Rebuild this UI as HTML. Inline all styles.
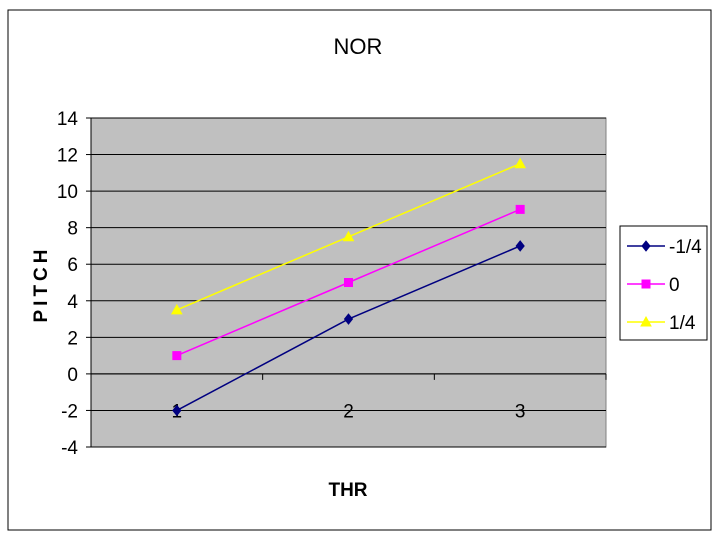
<!DOCTYPE html>
<html><head><meta charset="utf-8"><style>
body{margin:0;background:#fff;}
svg{display:block;font-family:"Liberation Sans Narrow","Liberation Sans",sans-serif;}
</style></head><body>
<svg id="c" width="720" height="540">
<rect x="8" y="10" width="703" height="520" fill="#fff" stroke="#000" stroke-width="1"/>
<text x="358" y="54" font-size="22" text-anchor="middle">NOR</text>
<rect x="91" y="118" width="515" height="329" fill="#c0c0c0" stroke="#808080"/>
<g id="grid"></g><g id="axes"></g><g id="series"></g>
<text x="348" y="496" font-size="19" font-weight="bold" text-anchor="middle">THR</text>
<text transform="translate(47,284) rotate(-90)" font-size="19" font-weight="bold" text-anchor="middle" letter-spacing="4">PITCH</text>
<g>
<rect x="620" y="226" width="87" height="114" fill="#fff" stroke="#000"/>
<g id="legend"></g></g>
</svg>
<script>
const categories=["1","2","3"];
const seriesNames=["-1/4","0","1/4"];
const sNeg=[-2,3,7];
const sZero=[1,5,9];
const sPos=[3.5,7.5,11.5];
const yTicks=[-4,-2,0,2,4,6,8,10,12,14];
const colors=["#000080","#ff00ff","#ffff00"];
const NS="http://www.w3.org/2000/svg";
const px0=91,pw=515,py0=118,ph=329,yMin=-4,yMax=14;
const X=i=>px0+pw/categories.length*(i+0.5);
const Y=v=>py0+(yMax-v)/(yMax-yMin)*ph;
function mk(t,a,p){const e=document.createElementNS(NS,t);for(const k in a)e.setAttribute(k,a[k]);p.appendChild(e);return e;}
const grid=document.getElementById('grid'),axes=document.getElementById('axes'),ser=document.getElementById('series'),leg=document.getElementById('legend');
yTicks.forEach(v=>{
 const g=mk('line',{x1:px0,x2:px0+pw,y1:Y(v),y2:Y(v),stroke:'#000','stroke-width':1},grid);
 
 
 const t=mk('line',{x1:px0-5,x2:px0,y1:Y(v),y2:Y(v),stroke:'#000'},axes);
 
 
 const l=mk('text',{x:px0-13,y:Y(v)+7,'font-size':19,'text-anchor':'end'},axes);l.textContent=v;
 
 
});
mk('line',{x1:px0,x2:px0,y1:py0,y2:py0+ph,stroke:'#000'},axes);
mk('line',{x1:px0,x2:px0+pw,y1:Y(0),y2:Y(0),stroke:'#000'},axes);
categories.forEach((c,i)=>{
 const xe=px0+pw/categories.length*(i+1);
 const t=mk('line',{x1:xe,x2:xe,y1:Y(0),y2:Y(0)+6,stroke:'#000'},axes);
 
 
 const l=mk('text',{x:X(i),y:Y(-2)+7,'font-size':19,'text-anchor':'middle'},axes);l.textContent=c;
 
 
});
function marker(k,x,y,p){
 if(k===0)return mk('polygon',{points:`${x},${y-5} ${x+4},${y} ${x},${y+5} ${x-4},${y}`,fill:colors[0],stroke:colors[0]},p);
 if(k===1)return mk('rect',{x:x-4,y:y-4,width:8,height:8,fill:colors[1],stroke:colors[1]},p);
 return mk('polygon',{points:`${x},${y-5} ${x+5},${y+4} ${x-5},${y+4}`,fill:colors[2],stroke:colors[2]},p);
}
[sNeg,sZero,sPos].forEach((d,k)=>{
 const pl=mk('polyline',{points:d.map((v,i)=>X(i)+','+Y(v)).join(' '),fill:'none',stroke:colors[k],'stroke-width':1.5},ser);
 
 
 d.forEach((v,i)=>{const m=marker(k,X(i),Y(v),ser);
  
  });
 const ly=246+k*38;
 mk('line',{x1:627,x2:665,y1:ly,y2:ly,stroke:colors[k],'stroke-width':1.5},leg);
 marker(k,646,ly,leg);
 const t=mk('text',{x:669,y:ly+7,'font-size':19},leg);t.textContent=seriesNames[k];
 
 
});
</script>
</body></html>
